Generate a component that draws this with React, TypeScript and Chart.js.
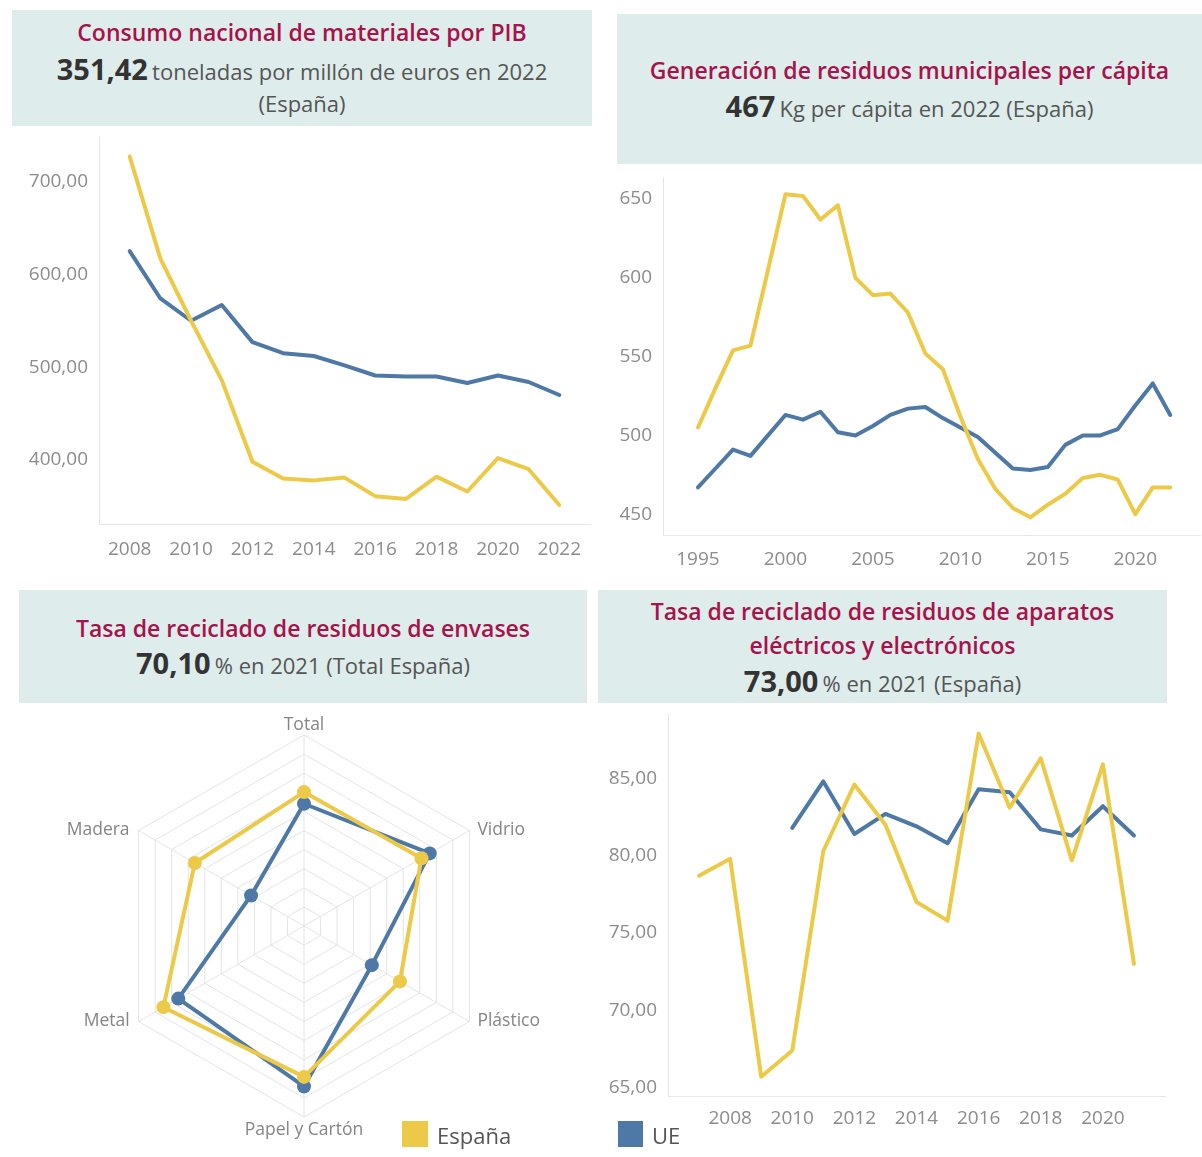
import React, { useEffect, useRef } from "react";
import { Chart, registerables } from "chart.js";
Chart.register(...registerables);

const YELLOW = "#EDC948";
const BLUE = "#4E79A7";
const FONT = '"Open Sans", "Noto Sans", sans-serif';
const TICK_COLOR = "#8c8c8c";
const AXIS_COLOR = "#e6e6e6";

// Chart 1: Consumo nacional de materiales por PIB
const dmcYears = [2008, 2009, 2010, 2011, 2012, 2013, 2014, 2015, 2016, 2017, 2018, 2019, 2020, 2021, 2022];
const dmcEspana = [727, 617, 550, 486, 398, 380, 378, 381, 361, 358, 382, 366, 402, 390, 351.42];
const dmcUE = [625, 574, 550, 567, 527, 515, 512, 502, 491, 490, 490, 483, 491, 484, 470];
const dmcXTicks = [2008, 2010, 2012, 2014, 2016, 2018, 2020, 2022];
const dmcYTicks = [400, 500, 600, 700];

// Chart 2: Generación de residuos municipales per cápita
const mswYears = [1995, 1996, 1997, 1998, 1999, 2000, 2001, 2002, 2003, 2004, 2005, 2006, 2007, 2008, 2009, 2010, 2011, 2012, 2013, 2014, 2015, 2016, 2017, 2018, 2019, 2020, 2021, 2022];
const mswEspana = [505, 530, 554, 557, 605, 653, 652, 637, 646, 600, 589, 590, 578, 552, 542, 512, 485, 466, 454, 448, 456, 463, 473, 475, 472, 450, 467, 467];
const mswUE = [467, 479, 491, 487, 500, 513, 510, 515, 502, 500, 506, 513, 517, 518, 511, 505, 499, 489, 479, 478, 480, 494, 500, 500, 504, 519, 533, 513];
const mswXTicks = [1995, 2000, 2005, 2010, 2015, 2020];
const mswYTicks = [450, 500, 550, 600, 650];

// Chart 3: Tasa de reciclado de residuos de envases
const packCategories = ["Total", "Vidrio", "Plástico", "Papel y Cartón", "Metal", "Madera"];
const packEspana = [70.1, 71, 58, 79, 85, 66];
const packUE = [64, 76, 41, 84, 76, 32];

// Chart 4: Tasa de reciclado de RAEE
const weeeYearsEspana = [2007, 2008, 2009, 2010, 2011, 2012, 2013, 2014, 2015, 2016, 2017, 2018, 2019, 2020, 2021];
const weeeEspana = [78.7, 79.8, 65.7, 67.4, 80.3, 84.6, 82.0, 77.0, 75.8, 87.9, 83.1, 86.3, 79.7, 85.9, 73.0];
const weeeYearsUE = [2010, 2011, 2012, 2013, 2014, 2015, 2016, 2017, 2018, 2019, 2020, 2021];
const weeeUE = [81.8, 84.8, 81.4, 82.7, 81.9, 80.8, 84.3, 84.1, 81.7, 81.3, 83.2, 81.3];
const weeeXTicks = [2008, 2010, 2012, 2014, 2016, 2018, 2020];
const weeeYTicks = [65, 70, 75, 80, 85];

const comma2 = (v: number) => v.toFixed(2).replace(".", ",");

function zeroPad(s: any) {
  s.paddingTop = 0;
  s.paddingBottom = 0;
  s.paddingLeft = 0;
  s.paddingRight = 0;
}

function lineConfig(opts: any) {
  const {
    xs1, ys1, xs2, ys2, xMin, xMax, yMin, yMax, xTicks, yTicks, yFmt,
    yWidth, xHeight, padding, xPad,
  } = opts;
  const pts = (xs: number[], ys: number[]) => xs.map((x, i) => ({ x, y: ys[i] }));
  const ds = (label: string, data: any, color: string) => ({
    label, data, borderColor: color, backgroundColor: color, borderWidth: 4,
    pointRadius: 0, pointHoverRadius: 0, tension: 0,
    borderCapStyle: "round", borderJoinStyle: "round", fill: false,
  });
  return {
    type: "line",
    data: {
      datasets: [ds("España", pts(xs1, ys1), YELLOW), ds("UE", pts(xs2, ys2), BLUE)],
    },
    options: {
      animation: false,
      responsive: false,
      maintainAspectRatio: false,
      layout: { padding },
      plugins: { legend: { display: false }, tooltip: { enabled: false } },
      scales: {
        x: {
          type: "linear", min: xMin, max: xMax,
          grid: { display: false, drawTicks: false },
          border: { display: true, color: AXIS_COLOR, width: 1 },
          afterBuildTicks: (s: any) => { s.ticks = xTicks.map((v: number) => ({ value: v })); },
          afterFit: (s: any) => { s.height = xHeight; zeroPad(s); },
          ticks: { padding: xPad, color: TICK_COLOR, font: { family: FONT, size: 19 }, maxRotation: 0, autoSkip: false, callback: (v: any) => String(v) },
        },
        y: {
          type: "linear", min: yMin, max: yMax,
          grid: { display: false, drawTicks: false },
          border: { display: true, color: AXIS_COLOR, width: 1 },
          afterBuildTicks: (s: any) => { s.ticks = yTicks.map((v: number) => ({ value: v })); },
          afterFit: (s: any) => { s.width = yWidth; zeroPad(s); },
          ticks: { padding: 11, color: TICK_COLOR, font: { family: FONT, size: 19 }, autoSkip: false, callback: (v: any) => yFmt(v) },
        },
      },
    },
  };
}

const radarLabelsPlugin = {
  id: "radarLabels",
  afterDraw(chart: any) {
    const scale = chart.scales.r;
    const ctx = chart.ctx;
    ctx.save();
    ctx.font = `17.5px ${FONT}`;
    ctx.fillStyle = "#858585";
    (chart.data.labels as string[]).forEach((label, i) => {
      const p = scale.getPointPosition(i, scale.drawingArea);
      const dx = p.x - scale.xCenter;
      const dy = p.y - scale.yCenter;
      let x = p.x, y = p.y;
      if (Math.abs(dx) < 2) {
        ctx.textAlign = "center";
        if (dy < 0) { ctx.textBaseline = "bottom"; y -= 1; }
        else { ctx.textBaseline = "top"; y += 4; }
      } else {
        ctx.textBaseline = "middle";
        if (dx > 0) { ctx.textAlign = "left"; x += 8; }
        else { ctx.textAlign = "right"; x -= 9; }
      }
      ctx.fillText(label, x, y);
    });
    ctx.restore();
  },
};

function radarConfig() {
  const ds = (label: string, data: number[], color: string) => ({
    label, data, borderColor: color, backgroundColor: "rgba(0,0,0,0)", borderWidth: 4,
    pointRadius: 7, pointBackgroundColor: color, pointBorderColor: color, pointBorderWidth: 0,
    pointHoverRadius: 7, fill: false, borderJoinStyle: "round",
  });
  return {
    type: "radar",
    data: {
      labels: packCategories,
      datasets: [ds("España", packEspana, YELLOW), ds("UE", packUE, BLUE)],
    },
    options: {
      animation: false,
      responsive: false,
      maintainAspectRatio: false,
      layout: { padding: { left: 103, top: 30, right: 95, bottom: 38 } },
      plugins: { legend: { display: false }, tooltip: { enabled: false } },
      scales: {
        r: {
          min: 0, max: 100,
          ticks: { display: false, stepSize: 10 },
          pointLabels: { display: false },
          grid: { color: "#e4e4e4", lineWidth: 1 },
          angleLines: { color: "#e4e4e4", lineWidth: 1 },
        },
      },
    },
    plugins: [radarLabelsPlugin],
  };
}

function ChartCanvas({ config, left, top, width, height }: any) {
  const ref = useRef<HTMLCanvasElement>(null);
  useEffect(() => {
    const chart = new Chart(ref.current as HTMLCanvasElement, config);
    return () => chart.destroy();
  }, []);
  return (
    <canvas
      ref={ref}
      width={width}
      height={height}
      style={{ position: "absolute", left, top, width, height }}
    />
  );
}

const TITLE_COLOR = "#A8124A";
const BOX_BG = "#DEEDEB";

function Line({ y, children, h = 36 }: any) {
  return (
    <div style={{ position: "absolute", left: 0, right: 0, top: y - h / 2, height: h, lineHeight: `${h}px`, textAlign: "center", whiteSpace: "nowrap" }}>
      {children}
    </div>
  );
}

const titleStyle: React.CSSProperties = { color: TITLE_COLOR, fontWeight: 600, fontSize: 23 };
const bigStyle: React.CSSProperties = { color: "#333", fontWeight: 700, fontSize: 29 };
const restStyle: React.CSSProperties = { color: "#555", fontWeight: 400, fontSize: 22 };

function Box({ left, top, width, height, children }: any) {
  return (
    <div style={{ position: "absolute", left, top, width, height, background: BOX_BG, fontFamily: FONT }}>
      {children}
    </div>
  );
}

export default function App() {
  useEffect(() => {
    document.body.style.margin = "0";
  }, []);

  const c1 = lineConfig({
    xs1: dmcYears, ys1: dmcEspana, xs2: dmcYears, ys2: dmcUE,
    xMin: 2007, xMax: 2023, yMin: 331, yMax: 748, xTicks: dmcXTicks, yTicks: dmcYTicks, yFmt: comma2,
    yWidth: 99, xHeight: 51, padding: { left: 0, top: 7, right: 10, bottom: 0 }, xPad: 14,
  });
  const c2 = lineConfig({
    xs1: mswYears, ys1: mswEspana, xs2: mswYears, ys2: mswUE,
    xMin: 1993, xMax: 2023.7, yMin: 436.8, yMax: 664, xTicks: mswXTicks, yTicks: mswYTicks, yFmt: (v: number) => String(v),
    yWidth: 63, xHeight: 45, padding: { left: 0, top: 7, right: 2, bottom: 0 }, xPad: 13,
  });
  const c4 = lineConfig({
    xs1: weeeYearsEspana, ys1: weeeEspana, xs2: weeeYearsUE, ys2: weeeUE,
    xMin: 2006, xMax: 2022, yMin: 64.46, yMax: 89.16, xTicks: weeeXTicks, yTicks: weeeYTicks, yFmt: comma2,
    yWidth: 68, xHeight: 60, padding: { left: 0, top: 8, right: 37, bottom: 0 }, xPad: 11,
  });
  const c3 = radarConfig();

  return (
    <div style={{ position: "absolute", left: 0, top: 0, width: 1202, height: 1157, overflow: "hidden", background: "#fff", fontFamily: FONT }}>
      <Box left={12} top={10} width={580} height={116}>
        <Line y={22}><span style={titleStyle}>Consumo nacional de materiales por PIB</span></Line>
        <Line y={59}><span style={bigStyle}>351,42</span> <span style={restStyle}>toneladas por millón de euros en 2022</span></Line>
        <Line y={93}><span style={restStyle}>(España)</span></Line>
      </Box>
      <Box left={617} top={14} width={585} height={150}>
        <Line y={56}><span style={titleStyle}>Generación de residuos municipales per cápita</span></Line>
        <Line y={92}><span style={bigStyle}>467</span> <span style={restStyle}>Kg per cápita en 2022 (España)</span></Line>
      </Box>
      <Box left={19} top={590} width={568} height={113}>
        <Line y={38}><span style={titleStyle}>Tasa de reciclado de residuos de envases</span></Line>
        <Line y={73}><span style={bigStyle}>70,10</span> <span style={restStyle}>% en 2021 (Total España)</span></Line>
      </Box>
      <Box left={598} top={590} width={569} height={113}>
        <Line y={21}><span style={titleStyle}>Tasa de reciclado de residuos de aparatos</span></Line>
        <Line y={55}><span style={titleStyle}>eléctricos y electrónicos</span></Line>
        <Line y={91}><span style={bigStyle}>73,00</span> <span style={restStyle}>% en 2021 (España)</span></Line>
      </Box>

      <ChartCanvas config={c1} left={0} top={130} width={600} height={445} />
      <ChartCanvas config={c2} left={600} top={170} width={602} height={410} />
      <ChartCanvas config={c3} left={10} top={705} width={580} height={450} />
      <ChartCanvas config={c4} left={600} top={706} width={602} height={450} />

      <div style={{ position: "absolute", left: 402, top: 1121, width: 26, height: 26, background: YELLOW }} />
      <div style={{ position: "absolute", left: 437, top: 1118, height: 34, lineHeight: "34px", fontSize: 22, color: "#555", fontFamily: FONT }}>España</div>
      <div style={{ position: "absolute", left: 618, top: 1121, width: 25, height: 26, background: BLUE }} />
      <div style={{ position: "absolute", left: 652, top: 1118, height: 34, lineHeight: "34px", fontSize: 22, color: "#555", fontFamily: FONT }}>UE</div>
    </div>
  );
}
